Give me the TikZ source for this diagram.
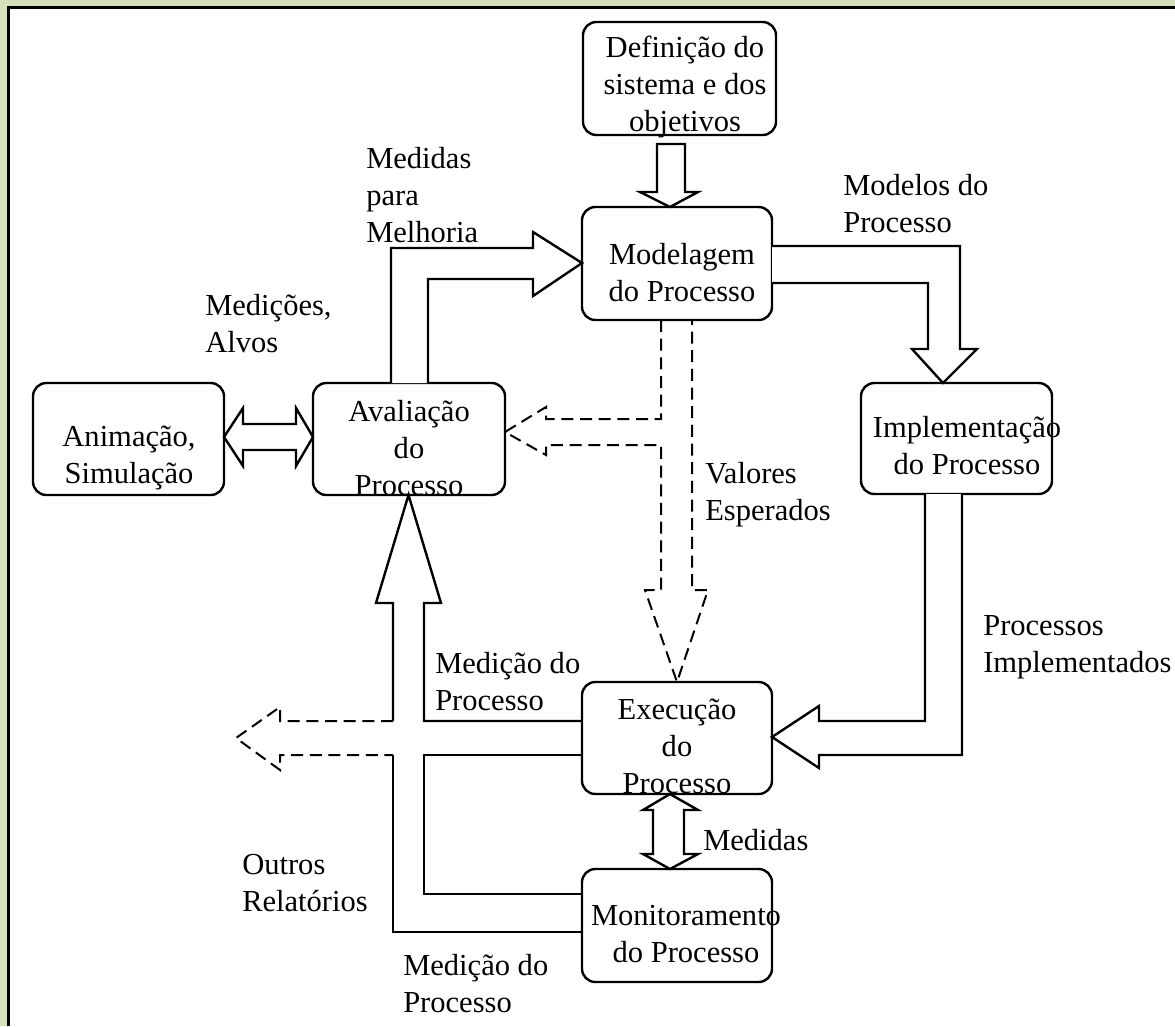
\documentclass[tikz,border=0pt]{standalone}
\usepackage{fontspec}
\setmainfont{Liberation Serif}
\definecolor{bggreen}{RGB}{214,225,188}
\begin{document}
\begin{tikzpicture}[x=0.75pt,y=-0.75pt,
  rbox/.style={draw, line width=1.8pt, rounded corners=10pt, inner sep=0pt},
  txt/.style={inner sep=0pt, align=center, font=\fontsize{22.9pt}{27.75pt}\selectfont},
  lbl/.style={inner sep=0pt, align=left, anchor=west, font=\fontsize{22.9pt}{27.75pt}\selectfont},
  blk/.style={draw, line width=1.8pt, fill=white, line join=miter},
  sline/.style={draw, line width=1.8pt},
  dsh/.style={draw, line width=1.5pt, dash pattern=on 9pt off 5pt}
]
\useasboundingbox (0,0) rectangle (1175,1026);
\fill[bggreen] (0,0) rectangle (1175,1026);
\fill[white] (8,7) rectangle (1175,1026);
\draw[line width=2.25pt] (8.5,1026) -- (8.5,7.5) -- (1175,7.5);

% boxes
\node[rbox, minimum width=144.75pt, minimum height=84.75pt] (def) at (679.5,78.5) {};
\node[rbox, minimum width=142.5pt, minimum height=84.75pt] (mod) at (677,263.5) {};
\node[rbox, minimum width=144pt, minimum height=84pt] (ava) at (409,439) {};
\node[rbox, minimum width=143.25pt, minimum height=84pt] (ani) at (128.5,439) {};
\node[rbox, minimum width=143.25pt, minimum height=83.25pt] (imp) at (956.5,438.5) {};
\node[rbox, minimum width=142.5pt, minimum height=84pt] (exe) at (677,738) {};
\node[rbox, minimum width=142.5pt, minimum height=84.75pt] (mon) at (677,925.5) {};

% box texts
\node[txt] (tdef) at (685,87) {Definição do\\sistema e dos\\objetivos};
\node[txt] (tmod) at (682,273) {Modelagem\\do Processo};
\node[txt] (tava) at (409,448) {Avaliação\\do\\Processo};
\node[txt] (tani) at (129,458) {Animação,\\Simulação};
\node[txt] (timp) at (967,446) {Implementação\\do Processo};
\node[txt] (texe) at (677,746) {Execução\\do\\Processo};
\node[txt] (tmon) at (686,934) {Monitoramento\\do Processo};

% labels
\node[lbl] (l1) at (366,195) {Medidas\\para\\Melhoria};
\node[lbl] (l2) at (205,324) {Medições,\\Alvos};
\node[lbl] (l3) at (843,204) {Modelos do\\Processo};
\node[lbl] (l4) at (705,495) {Valores\\Esperados};
\node[lbl] (l5) at (983,647) {Processos\\Implementados};
\node[lbl] (l6) at (435,682) {Medição do\\Processo};
\node[lbl] (l7) at (242,883) {Outros\\Relatórios};
\node[lbl] (l8) at (703,840) {Medidas};
\node[lbl] (l9) at (403,984) {Medição do\\Processo};

% def -> mod
\path[blk] (657,144) -- (685,144) -- (685,192) -- (698,192) -- (670,207) -- (640,192) -- (657,192) -- cycle;
% mod -> imp
\path[blk] (772,246) -- (960,246) -- (960,349) -- (977,349) -- (943,383) -- (912,349) -- (928,349) -- (928,283) -- (772,283);
% imp -> exe
\path[blk] (925,494) -- (925,721) -- (819,721) -- (819,706) -- (772,737) -- (819,768) -- (819,755) -- (962,755) -- (962,494);
% ava -> mod
\path[blk] (391,383) -- (391,248) -- (533,248) -- (533,232) -- (582,263) -- (533,296) -- (533,279) -- (428,279) -- (428,383);
% ani <-> ava
\path[blk] (224,437) -- (243,408) -- (243,424) -- (296,424) -- (296,408) -- (313,437) -- (296,466) -- (296,450) -- (243,450) -- (243,466) -- cycle;
% exe <-> mon
\path[blk] (670,794) -- (698,810) -- (684,810) -- (684,854) -- (698,854) -- (670,869) -- (643,854) -- (653,854) -- (653,810) -- (643,810) -- cycle;

% measurement arrows exe/mon -> ava
\path[sline] (582,721) -- (424,721) -- (424,603) -- (441,603) -- (408.5,495) -- (376,603) -- (393,603) -- (393,721);
\path[sline] (582,755) -- (424,755) -- (424,894) -- (582,894);
\path[sline] (393,755) -- (393,932) -- (582,932);
\path[dsh] (393,721) -- (280,721) -- (280,707) -- (236,738) -- (280,770) -- (280,755) -- (393,755);

% expected values (dashed)
\path[dsh] (661,320) -- (661,419) -- (546,419) -- (546,407) -- (505,432) -- (546,455) -- (546,445) -- (661,445) -- (661,590) -- (645,590) -- (677,682) -- (708,590) -- (692,590) -- (692,320);
\end{tikzpicture}
\end{document}
